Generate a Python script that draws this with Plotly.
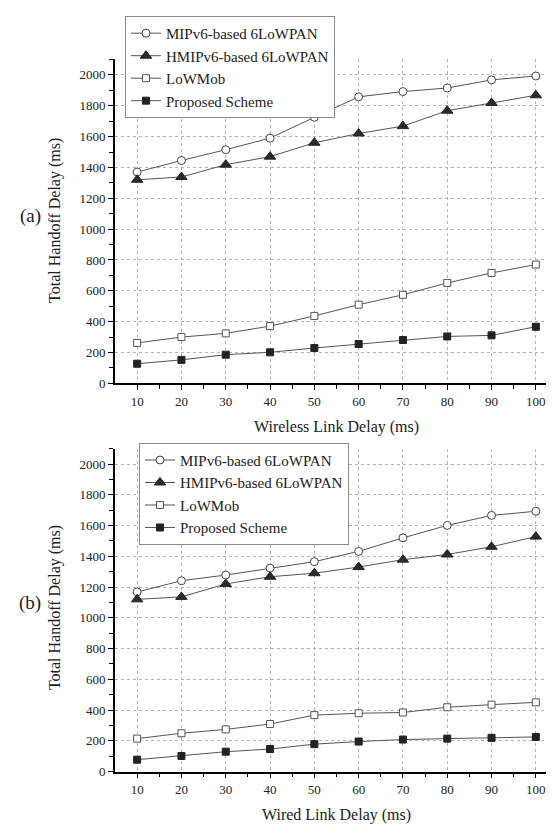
import plotly.graph_objects as go

x_vals = [10, 20, 30, 40, 50, 60, 70, 80, 90, 100]

# (a) Wireless link delay
mipv6_a = [1370, 1445, 1515, 1590, 1725, 1858, 1892, 1915, 1968, 1993]
hmipv6_a = [1320, 1338, 1418, 1470, 1560, 1620, 1668, 1768, 1818, 1868]
lowmob_a = [262, 300, 324, 371, 437, 510, 574, 651, 716, 770]
proposed_a = [127, 152, 186, 201, 229, 255, 281, 304, 311, 367]

# (b) Wired link delay
mipv6_b = [1168, 1241, 1278, 1323, 1365, 1432, 1520, 1601, 1666, 1693]
hmipv6_b = [1120, 1136, 1220, 1267, 1290, 1330, 1378, 1412, 1462, 1528]
lowmob_b = [214, 249, 274, 309, 367, 379, 384, 418, 435, 450]
proposed_b = [77, 101, 129, 146, 178, 195, 208, 214, 219, 225]

names = ["MIPv6-based 6LoWPAN", "HMIPv6-based 6LoWPAN", "LoWMob", "Proposed Scheme"]

FONT = "Liberation Serif"
LINE = "#555555"
TXT = "#222222"

styles = [
    dict(symbol="circle", size=8, color="white", line=dict(color="#444444", width=1)),
    dict(symbol="triangle-up", size=10, color="#2a2a2a", line=dict(color="#222222", width=1)),
    dict(symbol="square", size=7, color="white", line=dict(color="#555555", width=1)),
    dict(symbol="square", size=7, color="#222222", line=dict(color="#222222", width=1)),
]

fig = go.Figure()

sets = [
    ("x", "y", "legend", [mipv6_a, hmipv6_a, lowmob_a, proposed_a]),
    ("x2", "y2", "legend2", [mipv6_b, hmipv6_b, lowmob_b, proposed_b]),
]
for xa, ya, lg, series in sets:
    for name, vals, st in zip(names, series, styles):
        fig.add_trace(go.Scatter(
            x=x_vals, y=vals, name=name, mode="lines+markers",
            line=dict(color=LINE, width=1),
            marker=st, xaxis=xa, yaxis=ya, legend=lg,
        ))

W, H = 554, 825
xdom = [107 / W, 550 / W]
ydom_a = [1 - 379 / H, 1 - 52 / H]
ydom_b = [1 - 771 / H, 1 - 445 / H]


def xaxis(anchor):
    return dict(
        domain=xdom, anchor=anchor, range=[5, 105],
        tickmode="array", tickvals=x_vals, ticktext=[str(v) for v in x_vals],
        ticks="outside", ticklen=5, tickwidth=1.3, tickcolor="black",
        showline=True, linecolor="black", linewidth=1.6,
        showgrid=True, gridcolor="#b5b5b5", griddash="dot", gridwidth=1,
        zeroline=False,
        tickfont=dict(family=FONT, size=13, color=TXT),
        minor=dict(tickvals=[15, 25, 35, 45, 55, 65, 75, 85, 95], ticks="outside",
                   ticklen=4, tickcolor="black", tickwidth=1.3, showgrid=False),
    )


def yaxis(dom, anchor):
    return dict(
        domain=dom, anchor=anchor, range=[0, 2100],
        tickmode="linear", tick0=0, dtick=200,
        ticks="outside", ticklen=5, tickwidth=1.3, tickcolor="black",
        showline=True, linecolor="black", linewidth=1.6,
        showgrid=True, gridcolor="#b5b5b5", griddash="dot", gridwidth=1,
        zeroline=False,
        tickfont=dict(family=FONT, size=13, color=TXT),
        minor=dict(dtick=100, tick0=0, ticks="outside", ticklen=4,
                   tickcolor="black", tickwidth=1.3, showgrid=False),
    )


legend_common = dict(
    xanchor="left", yanchor="top", bgcolor="white",
    bordercolor="#8a8a8a", borderwidth=1,
    font=dict(family=FONT, size=15, color=TXT),
    tracegroupgap=0, itemwidth=30,
)


def ann(text, x, y, size, angle=0):
    return dict(text=text, x=x / W, y=1 - y / H, xref="paper", yref="paper",
                xanchor="center", yanchor="middle", textangle=angle,
                showarrow=False, font=dict(family=FONT, size=size, color=TXT))


fig.update_layout(
    width=W, height=H,
    margin=dict(l=0, r=0, t=0, b=0),
    paper_bgcolor="white", plot_bgcolor="white",
    showlegend=True,
    xaxis=xaxis("y"), yaxis=yaxis(ydom_a, "x"),
    xaxis2=xaxis("y2"), yaxis2=yaxis(ydom_b, "x2"),
    legend=dict(x=117 / W, y=1 - 8 / H, **legend_common),
    legend2=dict(x=131 / W, y=1 - 439 / H, **legend_common),
    annotations=[
        ann("Total Handoff Delay (ms)", 47, 215, 16, -90),
        ann("Total Handoff Delay (ms)", 47, 606, 16, -90),
        ann("(a)", 22, 210, 19),
        ann("(b)", 22, 601, 19),
        ann("Wireless Link Delay (ms)", 328, 423, 16),
        ann("Wired Link Delay (ms)", 328, 815, 16),
    ],
)

fig.write_html("out.html")
